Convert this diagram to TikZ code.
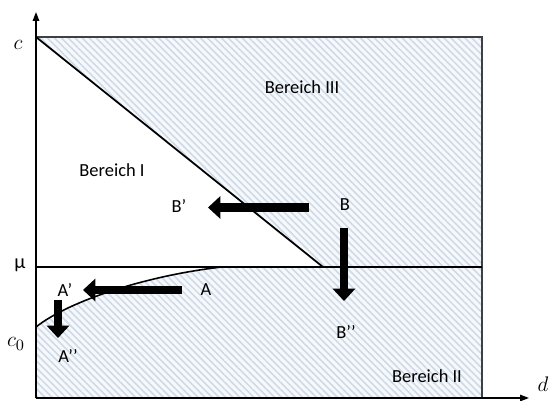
\documentclass[tikz,border=0pt]{standalone}
\usepackage{fontspec}
\setmainfont{Carlito}
\usepackage{tikz}
\usetikzlibrary{arrows.meta}
\usetikzlibrary{patterns.meta}
\definecolor{hatchblue}{RGB}{206,218,232}
\definecolor{hatchbg}{RGB}{246,248,251}
\tikzset{
  region/.style={fill=hatchbg, postaction={pattern={Lines[angle=-45,distance=2.8pt,line width=0.9pt]}, pattern color=hatchblue}},
  blockarrow/.style={line width=5pt, -{Triangle[length=7pt,width=12.5pt]}},
  axisarrow/.style={line width=0.8pt, -{Triangle[length=5pt,width=3.6pt]}},
  lbl/.style={font=\fontsize{10.5}{12}\selectfont, inner sep=0pt},
  mathlbl/.style={font=\fontsize{12.5}{14}\selectfont, inner sep=0pt},
}

\begin{document}
\begin{tikzpicture}[x=0.02cm,y=-0.02cm]
    \useasboundingbox (0,0) rectangle (551,401);

    \coordinate (O) at (36,398);
    \coordinate (ytip) at (36,12);
    \coordinate (xtip) at (529,398);
    \coordinate (cpt) at (36,37);
    \coordinate (mupt) at (36,267);
    \coordinate (c0pt) at (36,327);
    \coordinate (kink) at (222,267);
    \coordinate (cross) at (323,267);
    \coordinate (topright) at (482,37);
    \coordinate (midright) at (482,267);
    \coordinate (botright) at (482,398);

    % Bereich III and Bereich II
    \fill[region] (cpt) -- (topright) -- (midright) -- (cross) -- cycle;
    \fill[region] (c0pt) .. controls (70,300) and (150,275) .. (kink) -- (midright) -- (botright) -- (O) -- cycle;

    \draw[line width=0.7pt, black!75] (cpt) -- (topright) -- (botright);
    \draw[line width=1pt] (cpt) -- (cross);
    \draw[line width=0.9pt] (mupt) -- (midright);
    \draw[line width=0.9pt] (c0pt) .. controls (70,300) and (150,275) .. (kink);

    \draw[axisarrow] (O) -- (ytip);
    \draw[axisarrow] (O) -- (xtip);

    \node[mathlbl] (cLbl) at (18,45) {$c$};
    \node[lbl, font=\fontsize{11.5}{13}\selectfont] (muLbl) at (20,265) {μ};
    \node[mathlbl] (c0Lbl) at (16,344) {$c_0$};
    \node[mathlbl] (dLbl) at (543,384) {$d$};

    \node[lbl] (bIII) at (302,87) {Bereich III};
    \node[lbl] (bI) at (112,170) {Bereich I};
    \node[lbl] (bII) at (427,376) {Bereich II};

    \node[lbl] (B) at (345,205) {B};
    \node[lbl] (B1) at (179,206) {B’};
    \node[lbl] (B2) at (346,332) {B’’};
    \node[lbl] (A) at (206,290) {A};
    \node[lbl] (A1) at (65,290) {A’};
    \node[lbl] (A2) at (68,356) {A’’};

    \coordinate (Bs) at (309,207.5);
    \coordinate (Be) at (208,207.5);
    \coordinate (Bds) at (344,228);
    \coordinate (Bde) at (344,301);
    \coordinate (As) at (182,290);
    \coordinate (Ae) at (83,290);
    \coordinate (Ads) at (58,300);
    \coordinate (Ade) at (58,338);

    \draw[blockarrow] (Bs) -- (Be);
    \draw[blockarrow] (Bds) -- (Bde);
    \draw[blockarrow] (As) -- (Ae);
    \draw[blockarrow] (Ads) -- (Ade);

\end{tikzpicture}
\end{document}
